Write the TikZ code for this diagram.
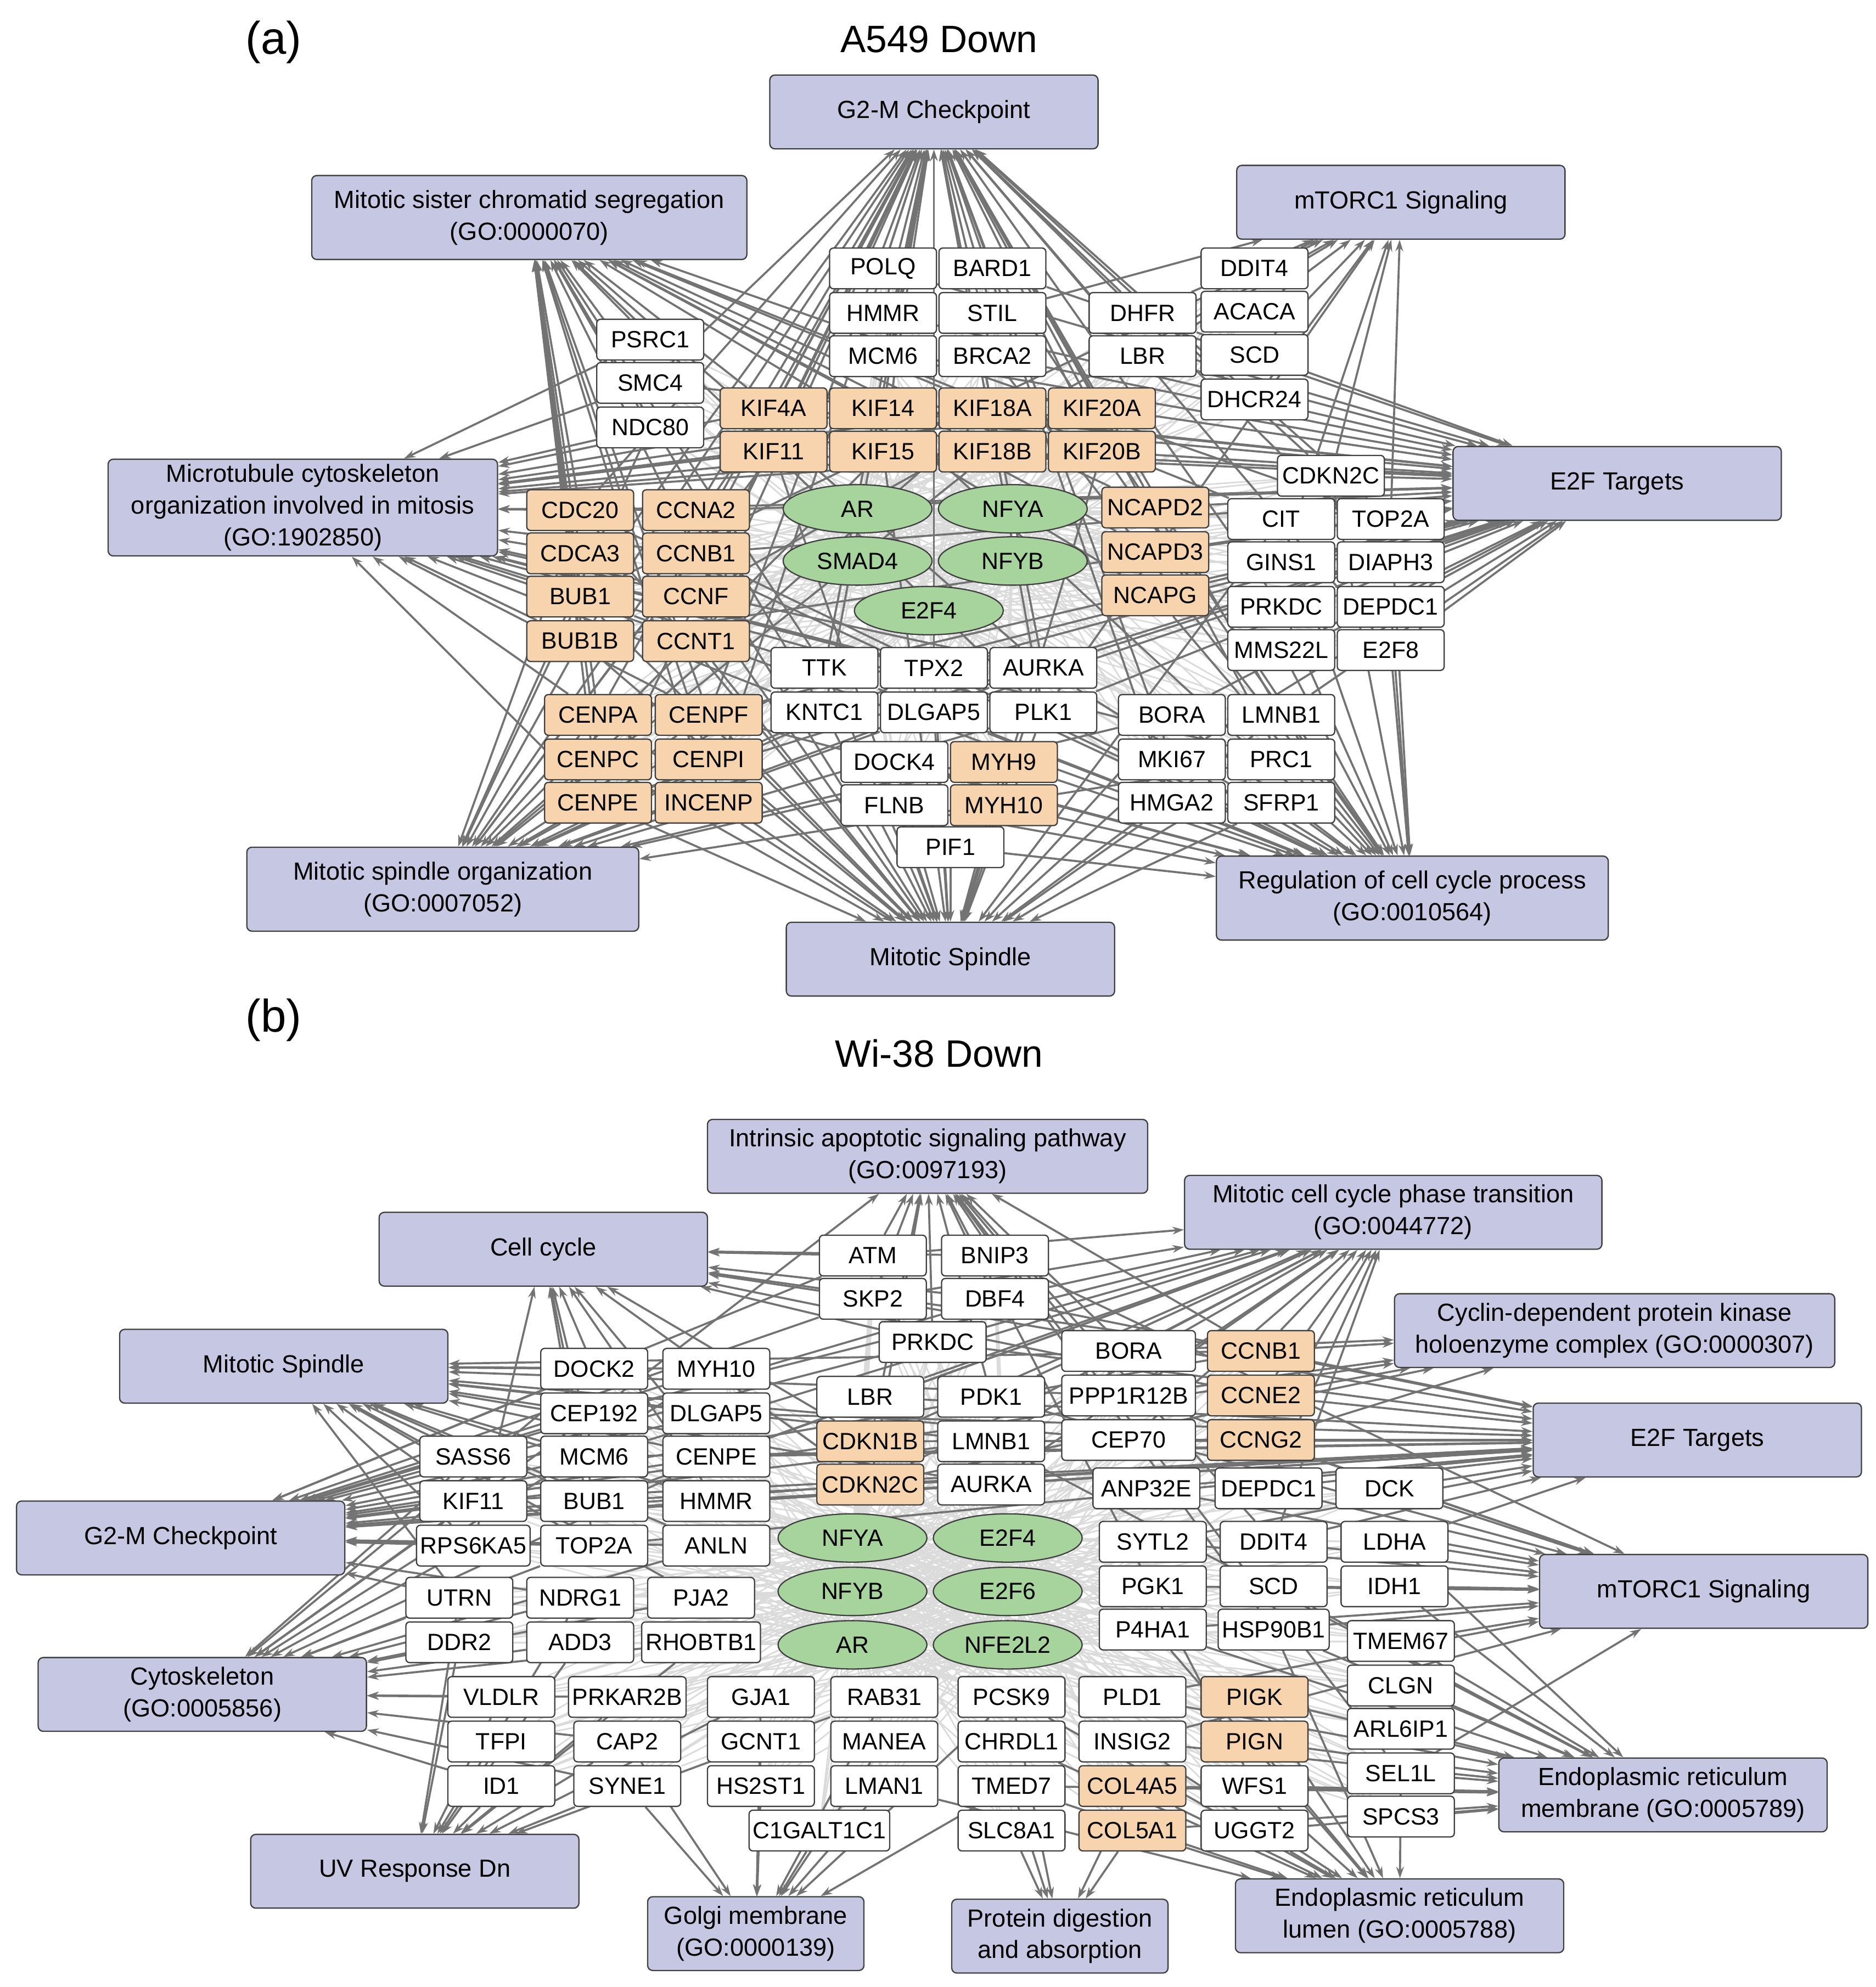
\documentclass[tikz,border=0pt]{standalone}
\usepackage{fontspec}
\setmainfont{Liberation Sans}
\usetikzlibrary{shapes.geometric,arrows.meta,backgrounds}
\definecolor{orangef}{HTML}{F8D4AE}
\definecolor{greenf}{HTML}{A6D49C}
\definecolor{pwf}{HTML}{C6C7E3}
\newcommand\gfont{\fontsize{18.5}{21}\selectfont}
\newcommand\pfont{\fontsize{19.5}{25}\selectfont}
\tikzset{
 base/.style={draw=black!75, line width=1pt, rounded corners=3pt, minimum width=84pt, minimum height=32pt, inner sep=3pt, font=\gfont},
 gw/.style={base, fill=white},
 go/.style={base, fill=orangef},
 tf/.style={ellipse, draw=black!75, fill=greenf, minimum width=117pt, minimum height=38pt, inner sep=0pt, line width=1pt, font=\gfont},
 pw/.style={draw=black!75, fill=pwf, rounded corners=4pt, line width=1pt, align=center, inner sep=2pt, font=\pfont, minimum width=258pt, minimum height=58pt},
 pe/.style={draw=black!55, line width=1.6pt, -{Stealth[length=9pt,width=6pt]}},
 le/.style={draw=black!14, line width=1.2pt}
}
\begin{document}
\begin{tikzpicture}[x=1pt,y=-1pt]
\useasboundingbox (0,0) rectangle (1474,1562);
% ---------------- panel (a)
\node[font=\fontsize{36}{40}\selectfont] (alab) at (215,33) {(a)};
\node[font=\fontsize{30}{34}\selectfont] (atit) at (738,31) {A549 Down};
\node[pw] (a-G2M) at (734,88) {G2-M Checkpoint};
\node[pw,minimum width=342pt,minimum height=66pt] (a-MSC) at (416,171) {Mitotic sister chromatid segregation\\(GO:0000070)};
\node[pw] (a-MT) at (1101,159) {mTORC1 Signaling};
\node[pw,minimum width=306pt,minimum height=76pt] (a-MCO) at (238,399) {Microtubule cytoskeleton\\organization involved in mitosis\\(GO:1902850)};
\node[pw] (a-E2F) at (1271,380) {E2F Targets};
\node[pw,minimum width=308pt,minimum height=66pt] (a-MSO) at (348,699) {Mitotic spindle organization\\(GO:0007052)};
\node[pw,minimum width=308pt,minimum height=66pt] (a-RCC) at (1110,706) {Regulation of cell cycle process\\(GO:0010564)};
\node[pw] (a-MS) at (747,754) {Mitotic Spindle};
\foreach \n/\x/\y in {POLQ/694/211, BARD1/780/211, HMMR/694/246, STIL/780/246, MCM6/694/280, BRCA2/780/280, DHFR/898/246, LBR/898/280, DDIT4/986/211, ACACA/986/245, SCD/986/279, DHCR24/986/314, PSRC1/511/267, SMC4/511/301, NDC80/511/336, CDKN2C/1046/374, CIT/1007/408, TOP2A/1093/408, GINS1/1007/442, DIAPH3/1093/442, PRKDC/1007/477, DEPDC1/1093/477, MMS22L/1007/511, E2F8/1093/511, TTK/648/525, TPX2/734/525, AURKA/820/525, KNTC1/648/560, DLGAP5/734/560, PLK1/820/560, BORA/921/562, LMNB1/1007/562, MKI67/921/597, PRC1/1007/597, HMGA2/921/631, SFRP1/1007/631, DOCK4/703/599, FLNB/703/633, PIF1/747/666}
  \node[gw] (a-\n) at (\x,\y) {\n};
\foreach \n/\x/\y in {KIF4A/608/321, KIF14/694/321, KIF18A/780/321, KIF20A/866/321, KIF11/608/355, KIF15/694/355, KIF18B/780/355, KIF20B/866/355, CDC20/456/401, CCNA2/547/401, CDCA3/456/435, CCNB1/547/435, BUB1/456/469, CCNF/547/469, BUB1B/456/504, CCNT1/547/504, NCAPD2/908/399, NCAPD3/908/434, NCAPG/908/468, CENPA/470/562, CENPF/557/562, CENPC/470/597, CENPI/557/597, CENPE/470/631, INCENP/557/631, MYH9/789/599, MYH10/789/633}
  \node[go] (a-\n) at (\x,\y) {\n};
\foreach \n/\x/\y in {AR/674/400, NFYA/796/400, SMAD4/674/441, NFYB/796/441, E2F4/730/480}
  \node[tf] (a-\n) at (\x,\y) {\n};
\def\Agenes{POLQ,BARD1,HMMR,STIL,MCM6,BRCA2,DHFR,LBR,DDIT4,ACACA,SCD,DHCR24,PSRC1,SMC4,NDC80,CDKN2C,CIT,TOP2A,GINS1,DIAPH3,PRKDC,DEPDC1,MMS22L,E2F8,TTK,TPX2,AURKA,KNTC1,DLGAP5,PLK1,BORA,LMNB1,MKI67,PRC1,HMGA2,SFRP1,DOCK4,FLNB,PIF1,KIF4A,KIF14,KIF18A,KIF20A,KIF11,KIF15,KIF18B,KIF20B,CDC20,CCNA2,CDCA3,CCNB1,BUB1,CCNF,BUB1B,CCNT1,NCAPD2,NCAPD3,NCAPG,CENPA,CENPF,CENPC,CENPI,CENPE,INCENP,MYH9,MYH10}
\begin{pgfonlayer}{background}
\fill[white] (0,0) rectangle (1474,1562);
\foreach \t in {AR,NFYA,SMAD4,NFYB,E2F4} \foreach \g in \Agenes \draw[le] (a-\t) -- (a-\g);
\foreach \g in {POLQ,BARD1,HMMR,STIL,MCM6,BRCA2,DHFR,LBR,KIF4A,KIF11,KIF15,KIF20B,KIF14,KIF18A,KIF20A,CDC20,CCNA2,CCNB1,CCNF,CCNT1,BUB1,CENPA,CENPF,CENPE,TTK,TPX2,AURKA,PLK1,KNTC1,SMC4,NCAPD2,PRC1,MKI67,CDKN2C,TOP2A,DIAPH3,PRKDC,E2F8,INCENP,BUB1B,LMNB1,HMGA2} \draw[pe] (a-\g) -- (a-G2M);
\foreach \g in {CDC20,CDCA3,BUB1,BUB1B,CCNB1,NDC80,SMC4,KIF18A,KIF18B,NCAPD2,NCAPD3,NCAPG,CENPA,CENPE,CENPF,TTK,AURKA,PLK1,KIF14,KIF4A,PSRC1,CENPC,CENPI,INCENP,KNTC1,TOP2A,CIT} \draw[pe] (a-\g) -- (a-MSC);
\foreach \g in {DDIT4,ACACA,SCD,DHCR24,DHFR,LBR,BUB1,CCNF,TOP2A,PLK1,CDKN2C,STIL,GINS1} \draw[pe] (a-\g) -- (a-MT);
\foreach \g in {CDKN2C,CIT,TOP2A,GINS1,DIAPH3,PRKDC,DEPDC1,MMS22L,E2F8,BARD1,POLQ,HMMR,MCM6,BRCA2,DHFR,LBR,KIF4A,KIF18B,KIF20B,KIF14,CCNB1,CDC20,CCNA2,BUB1B,NCAPD2,NCAPD3,NCAPG,AURKA,PLK1,TTK,LMNB1,MKI67,DLGAP5,SMC4,CENPE,CENPF,KIF15,KIF20A,TPX2,BORA} \draw[pe] (a-\g) -- (a-E2F);
\foreach \g in {CDC20,CDCA3,BUB1,BUB1B,CCNB1,CCNA2,NDC80,PSRC1,KIF11,KIF15,KIF4A,KIF18A,KIF18B,KIF20A,KIF20B,KIF14,CENPA,CENPE,CENPF,TPX2,AURKA,PLK1,SMC4,CCNF,CCNT1,TTK,PRC1,KNTC1} \draw[pe] (a-\g) -- (a-MCO);
\foreach \g in {CENPA,CENPC,CENPE,CENPF,CENPI,INCENP,KIF11,KIF15,KIF4A,TPX2,AURKA,PLK1,BORA,PRC1,KNTC1,BUB1,BUB1B,CDC20,CCNB1,KIF18A,KIF18B,MYH9,DLGAP5,TTK,NDC80} \draw[pe] (a-\g) -- (a-MSO);
\foreach \g in {BORA,LMNB1,MKI67,PRC1,HMGA2,SFRP1,PLK1,AURKA,E2F8,CIT,MMS22L,BRCA2,BARD1,CDKN2C,PRKDC,DEPDC1,TOP2A,KIF14,KIF20B,NCAPG,CCNB1,CDC20,BUB1,CENPF,DLGAP5,TTK,MYH9,MYH10,PIF1,DOCK4,FLNB} \draw[pe] (a-\g) -- (a-RCC);
\foreach \g in {DOCK4,FLNB,PIF1,MYH9,MYH10,KNTC1,DLGAP5,TPX2,TTK,CENPE,CENPF,CENPA,CENPC,CENPI,INCENP,KIF11,KIF15,KIF20B,BUB1,BUB1B,CCNB1,PLK1,AURKA,PRC1,LMNB1,CIT,BORA,MKI67,SFRP1,HMGA2,CDC20,CCNF,CCNT1} \draw[pe] (a-\g) -- (a-MS);
\end{pgfonlayer}
% ---------------- panel (b)
\node[font=\fontsize{36}{40}\selectfont] (blab) at (215,802) {(b)};
\node[font=\fontsize{30}{34}\selectfont] (btit) at (738,828) {Wi-38 Down};
\node[pw,minimum width=346pt] (b-IAP) at (729,909) {Intrinsic apoptotic signaling pathway\\(GO:0097193)};
\node[pw,minimum width=328pt] (b-MCC) at (1095,953) {Mitotic cell cycle phase transition\\(GO:0044772)};
\node[pw] (b-CC) at (427,982) {Cell cycle};
\node[pw,minimum width=346pt] (b-CDK) at (1269,1046) {Cyclin-dependent protein kinase\\holoenzyme complex (GO:0000307)};
\node[pw] (b-MS) at (223,1074) {Mitotic Spindle};
\node[pw] (b-E2F) at (1334,1132) {E2F Targets};
\node[pw] (b-G2M) at (142,1209) {G2-M Checkpoint};
\node[pw] (b-MT) at (1339,1251) {mTORC1 Signaling};
\node[pw] (b-CYT) at (159,1332) {Cytoskeleton\\(GO:0005856)};
\node[pw] (b-ERM) at (1307,1411) {Endoplasmic reticulum\\membrane (GO:0005789)};
\node[pw] (b-UV) at (326,1471) {UV Response Dn};
\node[pw,minimum width=170pt] (b-GOL) at (594,1520) {Golgi membrane\\(GO:0000139)};
\node[pw,minimum width=170pt] (b-PDA) at (833,1522) {Protein digestion\\and absorption};
\node[pw] (b-ERL) at (1100,1506) {Endoplasmic reticulum\\lumen (GO:0005788)};
\foreach \n/\x/\y in {ATM/686/987, BNIP3/782/987, SKP2/686/1021, DBF4/782/1021, PRKDC/733/1055, LBR/684/1098, PDK1/779/1098, LMNB1/779/1133, AURKA/779/1167, ANP32E/901/1170, DEPDC1/997/1170, DCK/1092/1170, DOCK2/467/1076, MYH10/563/1076, CEP192/467/1111, DLGAP5/563/1111, SASS6/372/1145, MCM6/467/1145, CENPE/563/1145, KIF11/372/1180, BUB1/467/1180, HMMR/563/1180, RPS6KA5/372/1215, TOP2A/467/1215, ANLN/563/1215, SYTL2/906/1212, DDIT4/1001/1212, LDHA/1096/1212, PGK1/906/1247, SCD/1001/1247, IDH1/1096/1247, P4HA1/906/1281, HSP90B1/1001/1281, TMEM67/1101/1290, UTRN/361/1256, NDRG1/456/1256, PJA2/551/1256, DDR2/361/1291, ADD3/456/1291, RHOBTB1/551/1291, CLGN/1101/1325, ARL6IP1/1101/1359, SEL1L/1101/1394, SPCS3/1101/1428, VLDLR/394/1334, PRKAR2B/493/1334, GJA1/598/1334, RAB31/695/1334, PCSK9/795/1334, PLD1/890/1334, TFPI/394/1369, CAP2/493/1369, GCNT1/598/1369, MANEA/695/1369, CHRDL1/795/1369, INSIG2/890/1369, ID1/394/1404, SYNE1/493/1404, HS2ST1/598/1404, LMAN1/695/1404, TMED7/795/1404, WFS1/986/1404, C1GALT1C1/644/1439, SLC8A1/795/1439, UGGT2/986/1439}
  \node[gw] (b-\n) at (\x,\y) {\n};
\foreach \n/\x/\y in {BORA/887/1062, PPP1R12B/887/1097, CEP70/887/1132}
  \node[gw,minimum width=105pt] (b-\n) at (\x,\y) {\n};
\foreach \n/\x/\y in {CCNB1/991/1062, CCNE2/991/1097, CDKN1B/684/1133, CCNG2/991/1132, CDKN2C/684/1167, PIGK/986/1334, PIGN/986/1369, COL4A5/890/1404, COL5A1/890/1439}
  \node[go] (b-\n) at (\x,\y) {\n};
\foreach \n/\x/\y in {NFYA/670/1209, E2F4/792/1209, NFYB/670/1251, E2F6/792/1251, AR/670/1293, NFE2L2/792/1293}
  \node[tf] (b-\n) at (\x,\y) {\n};
\def\Bgenes{ATM,BNIP3,SKP2,DBF4,PRKDC,LBR,PDK1,LMNB1,AURKA,ANP32E,DEPDC1,DCK,DOCK2,MYH10,CEP192,DLGAP5,SASS6,MCM6,CENPE,KIF11,BUB1,HMMR,RPS6KA5,TOP2A,ANLN,SYTL2,DDIT4,LDHA,PGK1,SCD,IDH1,P4HA1,HSP90B1,TMEM67,UTRN,NDRG1,PJA2,DDR2,ADD3,RHOBTB1,CLGN,ARL6IP1,SEL1L,SPCS3,VLDLR,PRKAR2B,GJA1,RAB31,PCSK9,PLD1,TFPI,CAP2,GCNT1,MANEA,CHRDL1,INSIG2,ID1,SYNE1,HS2ST1,LMAN1,TMED7,WFS1,C1GALT1C1,SLC8A1,UGGT2,BORA,PPP1R12B,CEP70,CCNB1,CCNE2,CDKN1B,CCNG2,CDKN2C,PIGK,PIGN,COL4A5,COL5A1}
\begin{pgfonlayer}{background}
\foreach \t in {NFYA,E2F4,NFYB,E2F6,AR,NFE2L2} \foreach \g in \Bgenes \draw[le] (b-\t) -- (b-\g);
\foreach \g in {ATM,BNIP3,SKP2,DBF4,PRKDC,PDK1,DDIT4,HSP90B1,SEL1L,WFS1,CDKN1B,CDKN2C,BORA,CCNB1,PPP1R12B,CEP192} \draw[pe] (b-\g) -- (b-IAP);
\foreach \g in {ATM,SKP2,DBF4,PRKDC,BORA,CCNB1,CCNE2,CDKN1B,CDKN2C,AURKA,CEP192,CENPE,BUB1,DEPDC1,CEP70,PPP1R12B,LBR,PDK1,LMNB1,MCM6,CCNG2,DDIT4} \draw[pe] (b-\g) -- (b-MCC);
\foreach \g in {ATM,SKP2,DBF4,PRKDC,CCNB1,CCNE2,CDKN1B,CDKN2C,BUB1,MCM6,BNIP3,RPS6KA5,DOCK2,CENPE,TOP2A,HMMR} \draw[pe] (b-\g) -- (b-CC);
\foreach \g in {CCNB1,CCNE2,CCNG2,CDKN1B,CDKN2C,BORA,PPP1R12B} \draw[pe] (b-\g) -- (b-CDK);
\foreach \g in {DOCK2,MYH10,CEP192,DLGAP5,SASS6,CENPE,KIF11,BUB1,HMMR,ANLN,TOP2A,LMNB1,AURKA,CCNB1,PPP1R12B,CEP70,MCM6,RPS6KA5,UTRN,PJA2} \draw[pe] (b-\g) -- (b-MS);
\foreach \g in {CCNB1,CCNE2,LBR,LMNB1,AURKA,PRKDC,ANP32E,DEPDC1,DCK,BUB1,MCM6,TOP2A,HMMR,DLGAP5,SKP2,CDKN2C,CDKN1B,CENPE,KIF11,DBF4,CEP70,SYTL2,DDIT4,LDHA} \draw[pe] (b-\g) -- (b-E2F);
\foreach \g in {KIF11,BUB1,HMMR,TOP2A,RPS6KA5,CENPE,MCM6,SASS6,ATM,DBF4,CCNB1,AURKA,LMNB1,ANLN,DLGAP5,CEP192,DOCK2,MYH10,PRKDC,SKP2,CDKN1B,CDKN2C,UTRN,NDRG1} \draw[pe] (b-\g) -- (b-G2M);
\foreach \g in {DDIT4,PGK1,SCD,IDH1,LDHA,HSP90B1,P4HA1,INSIG2,SEL1L,PDK1,BNIP3,CCNG2,SYTL2,TMEM67,DCK,DEPDC1,PPP1R12B,ANP32E,PLD1} \draw[pe] (b-\g) -- (b-MT);
\foreach \g in {UTRN,NDRG1,PJA2,DDR2,ADD3,RHOBTB1,DOCK2,MYH10,CEP192,SASS6,KIF11,ANLN,CAP2,SYNE1,CENPE,RPS6KA5,TOP2A,VLDLR,PRKAR2B,ID1} \draw[pe] (b-\g) -- (b-CYT);
\foreach \g in {VLDLR,PRKAR2B,TFPI,CAP2,ID1,SYNE1,DDR2,ADD3,NDRG1,GJA1,RAB31,UTRN,RHOBTB1} \draw[pe] (b-\g) -- (b-UV);
\foreach \g in {GCNT1,HS2ST1,LMAN1,C1GALT1C1,MANEA,RAB31,TMED7,PCSK9,GJA1,SYNE1,CAP2} \draw[pe] (b-\g) -- (b-GOL);
\foreach \g in {SLC8A1,COL4A5,COL5A1,PCSK9,TMED7} \draw[pe] (b-\g) -- (b-PDA);
\foreach \g in {COL4A5,COL5A1,PCSK9,CHRDL1,HSP90B1,UGGT2,WFS1,P4HA1,TMED7,PIGK,PIGN,LMAN1,SEL1L,INSIG2} \draw[pe] (b-\g) -- (b-ERL);
\foreach \g in {TMEM67,CLGN,ARL6IP1,SEL1L,SPCS3,PIGK,PIGN,WFS1,INSIG2,UGGT2,PLD1,HSP90B1,SCD,P4HA1,IDH1,LDHA,COL4A5,COL5A1,LMNB1,TMED7} \draw[pe] (b-\g) -- (b-ERM);
\end{pgfonlayer}
\end{tikzpicture}
\end{document}
